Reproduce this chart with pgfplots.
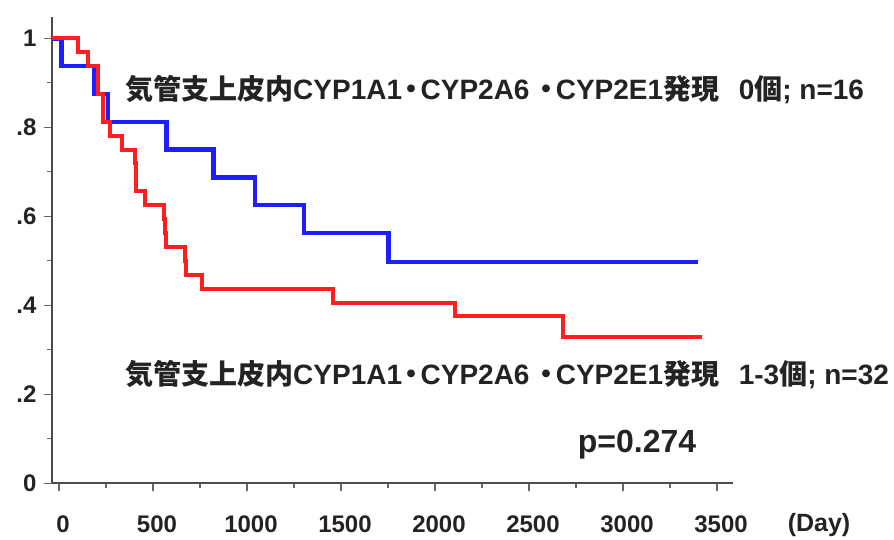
\documentclass[border=0pt]{standalone}
\usepackage{fontspec}
\setmainfont{Liberation Sans}
\newfontfamily\cjk{Noto Sans CJK JP}
\newfontfamily\cjkp[RawFeature=+palt]{Noto Sans CJK JP}
\usepackage{pgfplots}
\pgfplotsset{compat=1.18}
\usetikzlibrary{calc}
\definecolor{kmblue}{RGB}{30,30,255}
\definecolor{kmred}{RGB}{255,30,30}
\definecolor{txt}{RGB}{35,35,35}
\newcommand{\dt}{\kern0.08em{\cjkp ・}\kern0.08em}
\begin{document}
\begin{tikzpicture}
\begin{axis}[
  scale only axis, width=681pt, height=466.3pt,
  xmin=-37, xmax=3585, ymin=0, ymax=1.048,
  axis lines*=left,
  axis line style={line width=2pt, color=black!70},
  xtick={0,500,1000,1500,2000,2500,3000,3500},
  xticklabels={0,500,1000,1500,2000,2500,3000,3500},
  minor xtick={250,750,1250,1750,2250,2750,3250},
  ytick={0,0.2,0.4,0.6,0.8,1},
  yticklabels={0,.2,.4,.6,.8,1},
  minor ytick={0.1,0.3,0.5,0.7,0.9},
  tick align=outside,
  major tick length=8pt, minor tick length=5pt,
  every tick/.style={black!60, line width=1.2pt},
  /pgf/number format/assume math mode=true,
  tick label style={font=\fontsize{24}{28}\selectfont\bfseries, text=txt},
  xticklabel style={yshift=-21pt, xshift=4pt},
  yticklabel style={xshift=-4pt},
  clip=false,
]
\coordinate (corner) at (rel axis cs:0,0);
\addplot[const plot, kmblue, line width=4.5pt] coordinates {
(-37,1) (14,0.9375) (188,0.875) (262,0.8125) (573,0.75) (821,0.6875)
(1043,0.625) (1303,0.5625) (1752,0.497) (3400,0.497)};
\addplot[const plot, kmred, line width=4pt] coordinates {
(-37,1) (103,0.96875) (156,0.9375) (209,0.875) (236,0.8125) (271,0.78125)
(334,0.75) (404,0.71875) (408,0.6875) (412,0.65625) (457,0.625)
(560,0.59375) (564,0.5625) (568,0.53125) (670,0.5) (674,0.46875)
(759,0.4375) (1457,0.40625) (2106,0.375) (2681,0.328) (3418,0.328)};
\end{axis}
\coordinate (O) at ($(corner)+(-52pt,-56.7pt)$);
\pgfresetboundingbox
\path[use as bounding box] (O) rectangle ($(O)+(894pt,540pt)$);
\begin{scope}[shift={(O)}, x=1pt, y=1pt, every node/.style={text=txt, inner sep=0pt}]
\node[anchor=west] at (125,450) {\fontsize{28}{32}\selectfont\bfseries{\cjk 気管支上皮内}CYP1A1\dt CYP2A6 \dt CYP2E1{\cjk 発現}\hspace{0.7em}0{\cjk 個}; n=16};
\node[anchor=west] at (125,165) {\fontsize{28}{32}\selectfont\bfseries{\cjk 気管支上皮内}CYP1A1\dt CYP2A6 \dt CYP2E1{\cjk 発現}\hspace{0.7em}1-3{\cjk 個}; n=32};
\node at (637,95) {\fontsize{32}{36}\selectfont\bfseries p=0.274};
\node at (819,15) {\fontsize{25}{29}\selectfont\bfseries (Day)};
\end{scope}
\end{tikzpicture}
\end{document}
